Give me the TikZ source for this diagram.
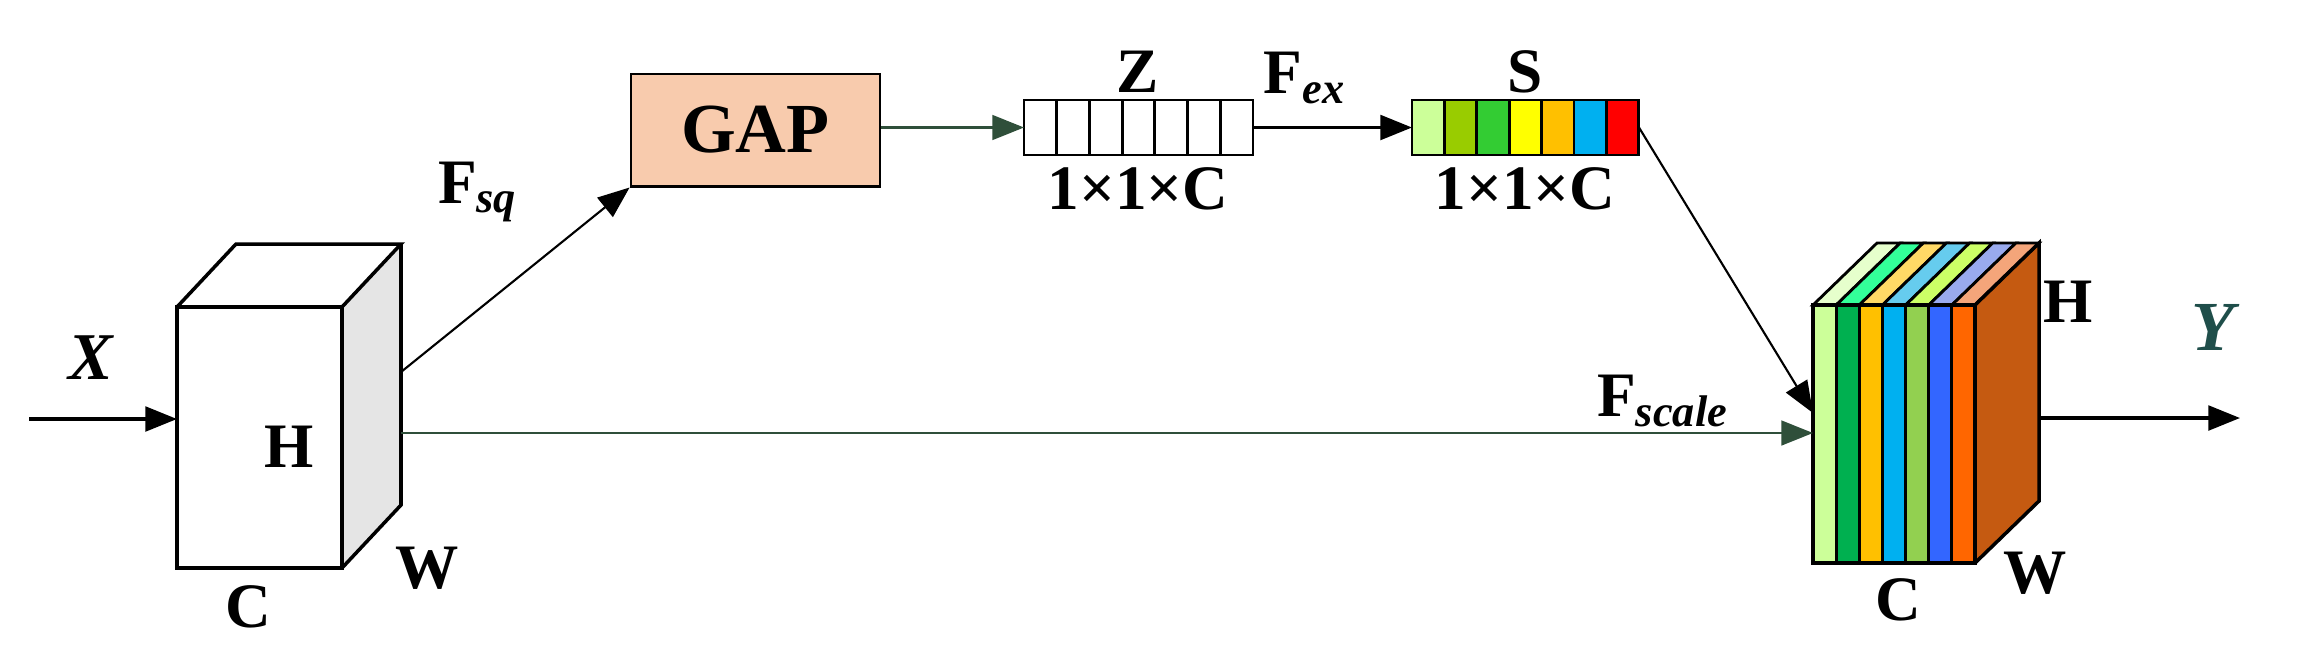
\documentclass[tikz,border=0pt]{standalone}
\usepackage{fontspec}
\setmainfont{Liberation Serif}
\usetikzlibrary{arrows.meta}
\definecolor{peach}{HTML}{F8CBAD}
\definecolor{dgreen}{HTML}{2F4F3A}
\definecolor{teal}{HTML}{1F4E4A}
\begin{document}
\begin{tikzpicture}[x=0.01cm,y=-0.01cm,
  lbl/.style={font=\fontsize{18}{20}\selectfont\bfseries, inner sep=0},
  arr/.style={-{Triangle[length=9pt,width=7pt]}, line width=1pt},
  thin arr/.style={-{Triangle[length=9pt,width=7pt]}, line width=0.6pt},
  cell/.style={draw=black, line width=0.8pt}]
\useasboundingbox (0,0) rectangle (2300,666);
% left cube
\fill[gray!20] (342,307) -- (401,244) -- (401,505) -- (342,568) -- cycle;
\draw[line width=1pt] (177,307) rectangle (342,568);
\draw[line width=1pt] (177,307) -- (236,244) -- (401,244) -- (342,307);
\draw[line width=1pt] (401,244) -- (401,505) -- (342,568);
\coordinate (xin) at (29,419);
\coordinate (xb) at (177,419);
\coordinate (fsqs) at (401,372);
\coordinate (longs) at (401,433);
\node[lbl, font=\fontsize{19}{21}\selectfont\bfseries\itshape] (X) at (91,358) {X};
\node[lbl] (H1) at (289,447) {H};
\node[lbl] (C1) at (248,607) {C};
\node[lbl] (W1) at (427,568) {W};
\draw[arr] (xin) -- (xb);
% GAP
\node[draw, fill=peach, line width=0.8pt, minimum width=70.8pt, minimum height=31.9pt, font=\fontsize{20}{22}\selectfont\bfseries] (gap) at (755.5,130) {GAP};
\draw[thin arr] (fsqs) -- (gap.south west);
\node[lbl] (fsq) at (478,192) {F\textsubscript{\itshape sq}};
% Z
\foreach \i in {0,...,6}{
  \draw[cell] ({1024+\i*32.7},100) rectangle ({1024+(\i+1)*32.7},155);}
\coordinate (zl) at (1024,127.5);
\coordinate (zr) at (1253,127.5);
\draw[arr, line width=0.8pt, draw=dgreen, -{Triangle[length=9pt,width=7pt,fill=dgreen]}] (gap.east |- zl) -- (zl);
\node[lbl] (Z) at (1138,72) {Z};
\node[lbl] (zd) at (1138,189) {1×1×C};
% S
\foreach \c [count=\i from 0] in {CCFF99,99CC00,33CC33,FFFF00,FFC000,00B0F0,FF0000}{
  \definecolor{tmp}{HTML}{\c}
  \draw[cell, fill=tmp] ({1412+\i*32.4},100) rectangle ({1412+(\i+1)*32.4},155);}
\coordinate (sl) at (1412,127.5);
\coordinate (sr) at (1639,127.5);
\draw[arr] (zr) -- (sl);
\node[lbl] (fex) at (1305,78) {F\textsubscript{\itshape ex}};
\node[lbl] (S) at (1525,72) {S};
\node[lbl] (sd) at (1525,189) {1×1×C};
% right cube
\def\dx{64}\def\dy{-62}
\definecolor{side}{HTML}{C55A11}
\fill[side] (1975,305) -- (2039,243) -- (2039,501) -- (1975,563) -- cycle;
\foreach \c/\t [count=\i from 0] in {CCFF99/E6FFCC,00B050/33FF99,FFC000/FFD966,00B0F0/66CCEE,92D050/CCFF66,3366FF/99AAEE,FF6600/F4A57A}{
  \definecolor{fc}{HTML}{\c}\definecolor{tc}{HTML}{\t}
  \draw[line width=0.8pt, fill=fc] ({1813+\i*23.14},305) rectangle ({1813+(\i+1)*23.14},563);
  \draw[line width=0.8pt, fill=tc] ({1813+\i*23.14},305) -- ({1813+\i*23.14+\dx},{305+\dy}) -- ({1813+(\i+1)*23.14+\dx},{305+\dy}) -- ({1813+(\i+1)*23.14},305) -- cycle;}
\draw[line width=1pt] (1975,305) -- (2039,243) -- (2039,501) -- (1975,563);
\draw[line width=1pt] (1813,305) rectangle (1975,563);
\coordinate (rin) at (1813,413);
\coordinate (rlong) at (1813,433);
\coordinate (rout) at (2039,418);
\coordinate (yend) at (2240,418);
\node[lbl] (H2) at (2068,302) {H};
\node[lbl] (C2) at (1898,600) {C};
\node[lbl] (W2) at (2035,573) {W};
\node[lbl, font=\fontsize{20}{22}\selectfont\bfseries\itshape, text=teal] (Y) at (2213,327) {Y};
\draw[thin arr] (sr) -- (rin);
\draw[arr, line width=0.8pt, draw=dgreen, -{Triangle[length=9pt,width=7pt,fill=dgreen]}] (longs) -- (rlong);
\node[lbl] (fscale) at (1663,401) {F\textsubscript{\itshape scale}};
\draw[arr] (rout) -- (yend);
\end{tikzpicture}
\end{document}
